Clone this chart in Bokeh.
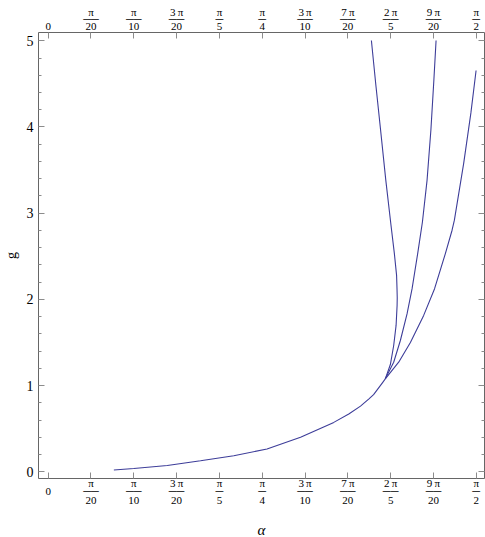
import numpy as np
from bokeh.plotting import figure
from bokeh.models import Range1d, LinearAxis, FixedTicker
from bokeh.embed import file_html
from bokeh.resources import INLINE

# ---- data ----
x_tick_steps = [0, 1, 2, 3, 4, 5, 6, 7, 8, 9, 10]          # multiples of pi/20
x_tick_labels = ["0", "π/20", "π/10", "3π/20", "π/5", "π/4",
                 "3π/10", "7π/20", "2π/5", "9π/20", "π/2"]
y_ticks = [0, 1, 2, 3, 4, 5]

main_alpha = [0.241, 0.314, 0.437, 0.559, 0.681, 0.803, 0.926, 1.048,
              1.103, 1.146, 1.176, 1.194, 1.227, 1.237]
main_g = [0.020, 0.038, 0.073, 0.128, 0.186, 0.264, 0.400, 0.573,
          0.670, 0.762, 0.843, 0.895, 1.035, 1.078]

branch_a_alpha = [1.237, 1.2556, 1.2678, 1.2766, 1.2803, 1.2808, 1.2800, 1.2784,
                  1.2703, 1.2579, 1.2388, 1.2197, 1.2029, 1.1860]
branch_a_g = [1.078, 1.244, 1.465, 1.698, 1.930, 2.020, 2.120, 2.279,
              2.531, 2.860, 3.384, 3.965, 4.469, 5.003]

branch_b_alpha = [1.237, 1.2678, 1.2923, 1.3170, 1.3353, 1.3558, 1.3731,
                  1.3903, 1.4043, 1.4153, 1.4233]
branch_b_g = [1.078, 1.271, 1.523, 1.834, 2.124, 2.531, 2.895,
              3.384, 3.965, 4.547, 5.003]

branch_c_alpha = [1.237, 1.2861, 1.3291, 1.3778, 1.4178, 1.4574, 1.4820,
                  1.4905, 1.5246, 1.5511, 1.5701]
branch_c_g = [1.078, 1.271, 1.500, 1.814, 2.124, 2.531, 2.802,
              2.919, 3.578, 4.163, 4.655]

# ---- figure ----
X_MIN, X_MAX = -0.0355, 1.6010
Y_MIN, Y_MAX = -0.078, 5.096

p = figure(width=485, height=537, output_backend="svg", toolbar_location=None,
           x_range=Range1d(X_MIN, X_MAX), y_range=Range1d(Y_MIN, Y_MAX),
           min_border_left=38, min_border_right=1, min_border_top=32,
           min_border_bottom=59)
p.grid.visible = False
p.outline_line_color = None
p.background_fill_color = "white"
p.border_fill_color = "white"

x_ticks = [k * np.pi / 20 for k in x_tick_steps]
y_minor = [round(0.2 * k, 1) for k in range(26) if k % 5]

FRAME = "#666666"
TICK = "#8c8c8c"
SERIF = "Liberation Serif"


def fraction_text(lab, below):
    """Stack numerator, bar and denominator of a tick label like '3π/20'."""
    if "/" not in lab:
        return ("\n" + lab) if below else lab
    num, den = lab.split("/")
    shown = num.replace("π", "\u2009π") if len(num) > 1 else num
    bar = "\u2500" * (1 if max(len(num), len(den)) == 1 else 2)
    return f"{shown}\n{bar}\n{den}"


def style_axis(ax, ticker):
    ax.ticker = ticker
    ax.axis_line_color = FRAME
    ax.axis_line_width = 1
    ax.major_tick_in = 6
    ax.major_tick_out = 0
    ax.minor_tick_in = 3
    ax.minor_tick_out = 0
    ax.major_tick_line_color = TICK
    ax.minor_tick_line_color = TICK
    ax.major_label_text_font = SERIF
    ax.major_label_text_color = "black"


x_ticker = FixedTicker(ticks=x_ticks, minor_ticks=[])
y_ticker = FixedTicker(ticks=y_ticks, minor_ticks=y_minor)

# bottom axis: pi fractions + alpha title
bottom = p.xaxis[0]
style_axis(bottom, x_ticker)
bottom.major_label_overrides = {v: fraction_text(l, True) for v, l in zip(x_ticks, x_tick_labels)}
bottom.major_label_text_font_size = "11px"
bottom.major_label_text_line_height = 0.72
bottom.major_label_standoff = -2
bottom.axis_label = "α\n"
bottom.axis_label_text_font = SERIF
bottom.axis_label_text_font_style = "italic"
bottom.axis_label_text_font_size = "15px"
bottom.axis_label_text_line_height = -0.4
bottom.axis_label_text_color = "black"
bottom.axis_label_standoff = 13

# left axis: numbers + g title
left = p.yaxis[0]
style_axis(left, y_ticker)
left.major_label_text_font_size = "14px"
left.major_label_standoff = 5
left.axis_label = "g"
left.axis_label_text_font = SERIF
left.axis_label_text_font_style = "normal"
left.axis_label_text_font_size = "14px"
left.axis_label_text_color = "black"
left.axis_label_standoff = 5

# top axis: mirrored pi fractions
top = LinearAxis()
style_axis(top, x_ticker)
top.major_label_overrides = {v: fraction_text(l, False) for v, l in zip(x_ticks, x_tick_labels)}
top.major_label_text_font_size = "11px"
top.major_label_text_line_height = 0.553
top.major_label_standoff = 1
p.add_layout(top, "above")

# right axis: ticks only
right = LinearAxis()
style_axis(right, y_ticker)
right.major_label_text_color = None
right.major_label_text_font_size = "0px"
right.major_label_standoff = 0
p.add_layout(right, "right")

# ---- curves ----
CURVE = "#3d3d99"
for xs, ys in ((main_alpha, main_g), (branch_a_alpha, branch_a_g),
               (branch_b_alpha, branch_b_g), (branch_c_alpha, branch_c_g)):
    p.line(xs, ys, line_color=CURVE, line_width=1.1)

open("out.html", "w").write(file_html(p, INLINE))
